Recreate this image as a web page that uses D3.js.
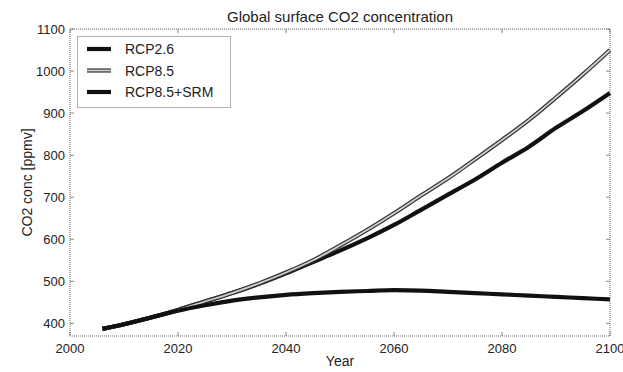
<!DOCTYPE html>
<html>
<head>
<meta charset="utf-8">
<script src="https://cdn.jsdelivr.net/npm/d3@7"></script>
<style>
  body { margin: 0; background: #fff; }
  text { font-family: "Liberation Sans", Arial, sans-serif; fill: #222; }
</style>
</head>
<body>
<svg id="chart" width="623" height="372"></svg>
<script>
'use strict'

// data
const years = [2006, 2010, 2015, 2020, 2025, 2030, 2035, 2040, 2045, 2050, 2055, 2060, 2065, 2070, 2075, 2080, 2085, 2090, 2095, 2100]
const rcp26 = [387, 398, 414, 430, 443, 454, 462, 468, 472, 475, 477, 479, 478, 475, 472, 469, 466, 463, 460, 457]
const rcp85 = [387, 398, 414, 432, 452, 472, 495, 521, 550, 585, 622, 662, 704, 745, 790, 836, 884, 937, 992, 1050]
const rcp85srm = [387, 398, 414, 432, 452, 472, 494, 519, 546, 573, 602, 634, 670, 706, 742, 782, 820, 865, 905, 948]
const xTicks = [2000, 2020, 2040, 2060, 2080, 2100]
const yTicks = [400, 500, 600, 700, 800, 900, 1000, 1100]
const legendNames = ["RCP2.6", "RCP8.5", "RCP8.5+SRM"]

const svg = d3.select("#chart")
const pLeft = 70, pRight = 610, pTop = 29, pBottom = 336

let x = d3.scaleLinear().domain([2000, 2100]).range([pLeft, pRight])
let y = d3.scaleLinear().domain([370, 1100]).range([pBottom, pTop])

// ticks, inward on all four sides
const tickCol = "#888"
let axes = svg.append("g")
xTicks.forEach(function(t){
  axes.append("line").attr("x1", x(t)).attr("x2", x(t)).attr("y1", pBottom).attr("y2", pBottom - 4).attr("stroke", tickCol)
  axes.append("line").attr("x1", x(t)).attr("x2", x(t)).attr("y1", pTop).attr("y2", pTop + 4).attr("stroke", tickCol)
  axes.append("text").attr("x", x(t)).attr("y", pBottom + 17).attr("text-anchor", "middle")
    .attr("font-size", 13).text(t)
})
yTicks.forEach(function(t){
  axes.append("line").attr("y1", y(t)).attr("y2", y(t)).attr("x1", pLeft).attr("x2", pLeft + 4).attr("stroke", tickCol)
  axes.append("line").attr("y1", y(t)).attr("y2", y(t)).attr("x1", pRight).attr("x2", pRight - 4).attr("stroke", tickCol)
  axes.append("text").attr("x", pLeft - 5).attr("y", y(t) + 4.5).attr("text-anchor", "end")
    .attr("font-size", 13).text(t)
})

// series
let line = d3.line()
  .x(function(d, i){ return x(years[i]) })
  .y(function(d){ return y(d) })
  .curve(d3.curveMonotoneX)

let plot = svg.append("g")
plot.append("path").datum(rcp85srm).attr("d", line).attr("fill", "none")
  .attr("stroke", "#111").attr("stroke-width", 4.2).attr("stroke-linejoin", "round")
plot.append("path").datum(rcp85).attr("d", line).attr("fill", "none")
  .attr("stroke", "#333").attr("stroke-width", 4.2)
plot.append("path").datum(rcp85).attr("d", line).attr("fill", "none")
  .attr("stroke", "#cfcfcf").attr("stroke-width", 1.8)
plot.append("path").datum(rcp26).attr("d", line).attr("fill", "none")
  .attr("stroke", "#111").attr("stroke-width", 4.2).attr("stroke-linejoin", "round")

// frame
svg.append("rect").attr("x", pLeft).attr("y", pTop).attr("width", pRight - pLeft).attr("height", pBottom - pTop)
  .attr("fill", "none").attr("stroke", "#666").attr("stroke-dasharray", "1,1")

// legend
let lg = svg.append("g")
lg.append("rect").attr("x", 77.5).attr("y", 36.5).attr("width", 153).attr("height", 71)
  .attr("fill", "#fff").attr("stroke", "#666").attr("stroke-dasharray", "1,1")
legendNames.forEach(function(n, i){
  let ly = 49 + i * 21.5
  if (i == 1) {
    lg.append("line").attr("x1", 87).attr("x2", 111).attr("y1", ly).attr("y2", ly).attr("stroke", "#333").attr("stroke-width", 4.2)
    lg.append("line").attr("x1", 87).attr("x2", 111).attr("y1", ly).attr("y2", ly).attr("stroke", "#cfcfcf").attr("stroke-width", 1.8)
  } else {
    lg.append("line").attr("x1", 87).attr("x2", 111).attr("y1", ly).attr("y2", ly).attr("stroke", "#111").attr("stroke-width", 4.2)
  }
  lg.append("text").attr("x", 125).attr("y", ly + 5).attr("font-size", 14).text(n)
})

// titles
svg.append("text").attr("x", (pLeft + pRight) / 2).attr("y", 22).attr("text-anchor", "middle")
  .attr("font-size", 15).text("Global surface CO2 concentration")
svg.append("text").attr("x", (pLeft + pRight) / 2).attr("y", 366).attr("text-anchor", "middle")
  .attr("font-size", 14).text("Year")
svg.append("text").attr("transform", "translate(32," + ((pTop + pBottom) / 2) + ") rotate(-90)")
  .attr("text-anchor", "middle").attr("font-size", 14).text("CO2 conc [ppmv]")
</script>
</body>
</html>
